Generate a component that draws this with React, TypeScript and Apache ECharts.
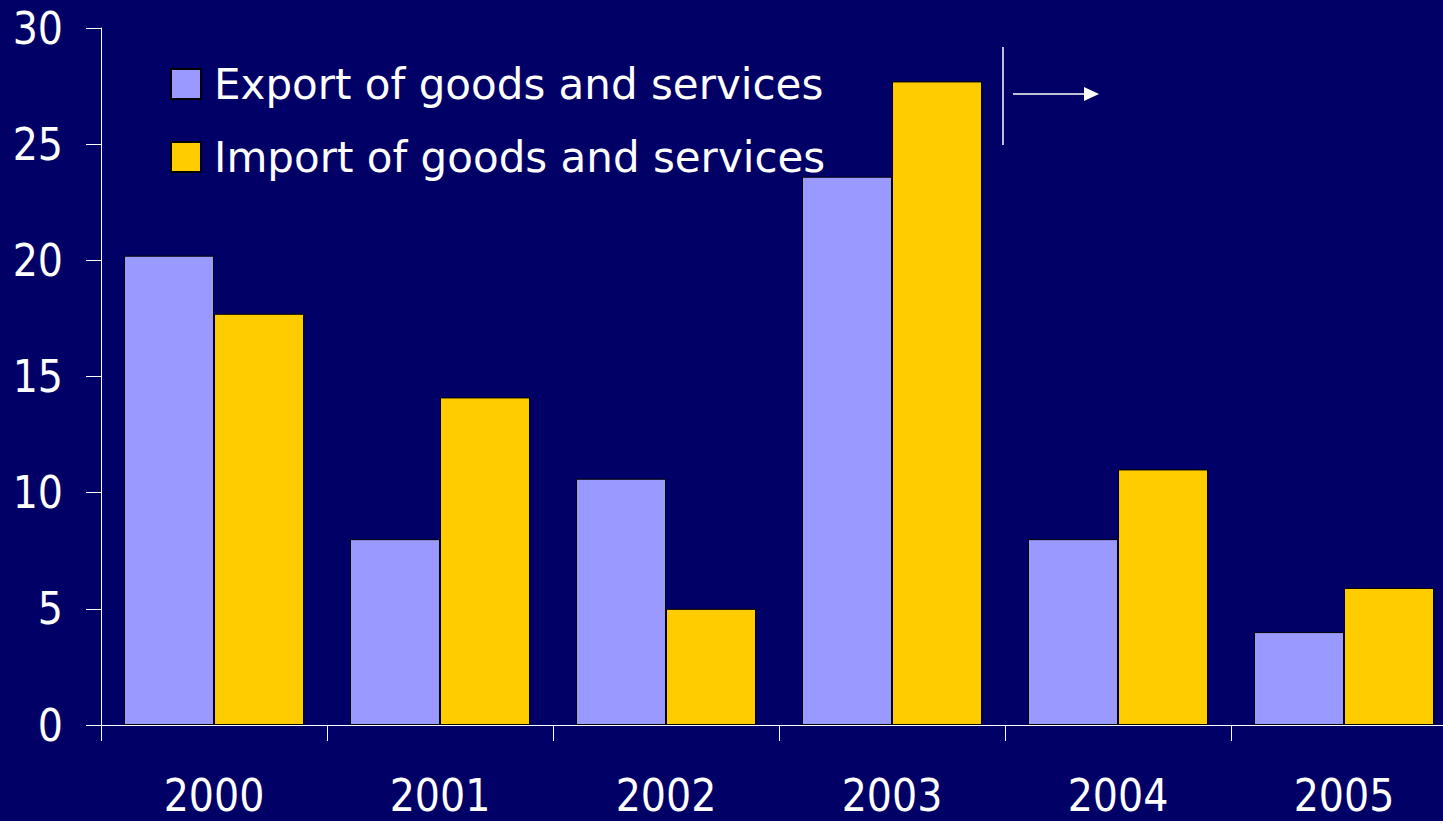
import React, { useEffect, useRef } from "react";
import * as echarts from "echarts";

const categories = ["2000", "2001", "2002", "2003", "2004", "2005"];
const exportValues = [20.2, 8.0, 10.6, 23.6, 8.0, 4.0];
const importValues = [17.7, 14.1, 5.0, 27.7, 11.0, 5.9];
const seriesNames = ["Export of goods and services", "Import of goods and services"];

export default function App() {
  const ref = useRef<HTMLDivElement>(null);
  useEffect(() => {
    if (!ref.current) return;
    const chart = echarts.init(ref.current, undefined, { renderer: "svg" });
    chart.setOption({
      animation: false,
      backgroundColor: "#000066",
      grid: { left: 101, top: 28, width: 1356, height: 697, containLabel: false },
      legend: {
        orient: "vertical",
        left: 165,
        top: 58,
        itemWidth: 30,
        itemHeight: 30,
        itemGap: 31,
        icon: "rect",
        textStyle: {
          color: "#ffffff",
          fontFamily: "DejaVu Sans",
          fontSize: 42,
          padding: [0, 0, 0, 8],
        },
        data: seriesNames,
      },
      xAxis: {
        type: "category",
        data: categories,
        axisLine: { lineStyle: { color: "#ffffff", width: 1 } },
        axisTick: { show: true, length: 16, lineStyle: { color: "#ffffff", width: 1 } },
        axisLabel: {
          color: "#ffffff",
          fontFamily: "DejaVu Sans Condensed",
          fontSize: 44,
          margin: 48,
        },
      },
      yAxis: {
        type: "value",
        min: 0,
        max: 30,
        interval: 5,
        splitLine: { show: false },
        axisLine: { show: true, lineStyle: { color: "#ffffff", width: 1 } },
        axisTick: { show: true, length: 15, lineStyle: { color: "#ffffff" } },
        axisLabel: {
          color: "#ffffff",
          fontFamily: "DejaVu Sans Condensed",
          fontSize: 44,
          margin: 38,
        },
      },
      series: [
        {
          name: seriesNames[0],
          type: "bar",
          data: exportValues,
          barWidth: 90,
          barGap: "0%",
          itemStyle: { color: "#9999FF", borderColor: "#000000", borderWidth: 1 },
        },
        {
          name: seriesNames[1],
          type: "bar",
          data: importValues,
          barWidth: 90,
          barGap: "0%",
          itemStyle: { color: "#FFCC00", borderColor: "#000000", borderWidth: 1 },
        },
      ],
      graphic: [
        {
          type: "line",
          shape: { x1: 1003, y1: 47, x2: 1003, y2: 145 },
          style: { stroke: "#ffffff", lineWidth: 1.5 },
        },
        {
          type: "line",
          shape: { x1: 1013, y1: 94, x2: 1086, y2: 94 },
          style: { stroke: "#ffffff", lineWidth: 1.5 },
        },
        {
          type: "polygon",
          shape: { points: [[1084, 87], [1099, 94], [1084, 101]] },
          style: { fill: "#ffffff" },
        },
      ],
    });
    return () => chart.dispose();
  }, []);
  return (
    <div
      ref={ref}
      style={{ position: "fixed", left: 0, top: 0, width: 1470, height: 821 }}
    />
  );
}
